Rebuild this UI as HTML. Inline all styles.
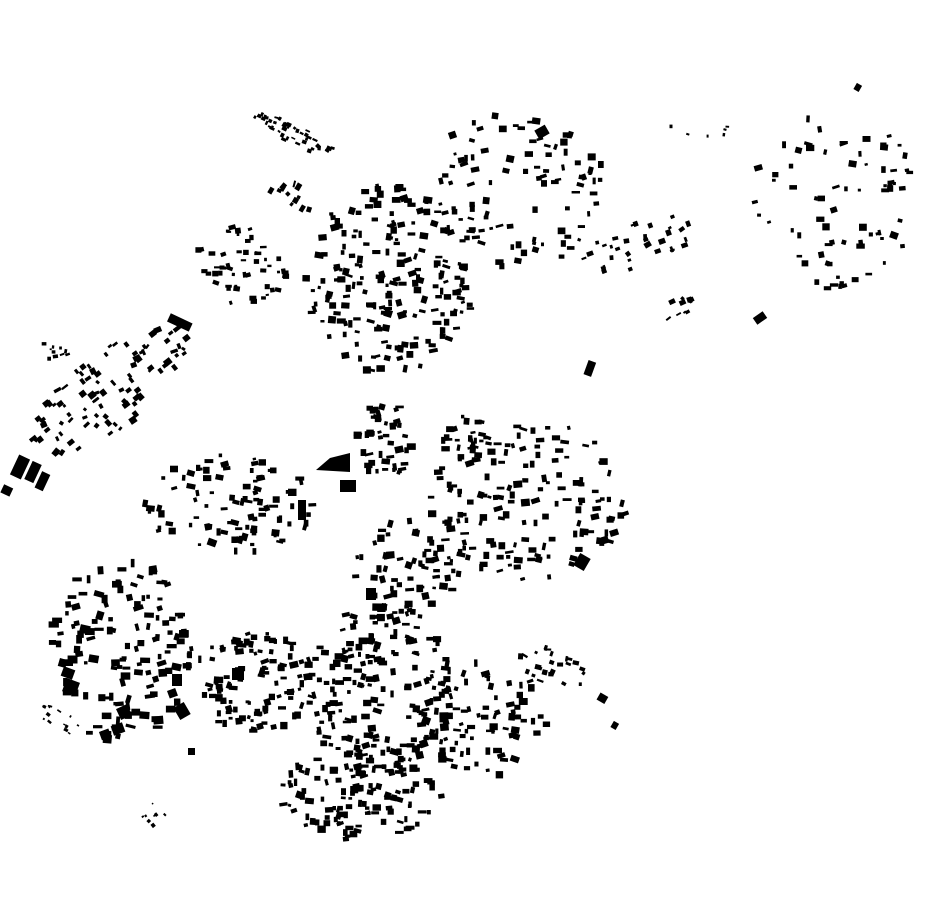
<!DOCTYPE html>
<html><head><meta charset="utf-8"><style>
html,body{margin:0;padding:0;background:#fff;}
svg{display:block}
</style></head><body>
<svg id="s" width="930" height="924" viewBox="0 0 930 924" xmlns="http://www.w3.org/2000/svg">
<rect width="930" height="924" fill="#fff"/>
<g fill="#000">
<rect x="586" y="361" width="8" height="15" transform="rotate(20 590 368)"/>
<rect x="754" y="314" width="12" height="8" transform="rotate(-35 760 318)"/>
<path d="M316 470 L330 458 L350 453 L350 472 Z"/>
<rect x="340" y="480" width="16" height="12"/>
<rect x="168" y="318" width="24" height="9" transform="rotate(25 180 322)"/>
<rect x="855" y="84" width="6" height="7" transform="rotate(30 858 87)"/>
<rect x="14" y="456" width="12" height="22" transform="rotate(25 20 467)"/>
<rect x="28" y="462" width="10" height="20" transform="rotate(25 33 472)"/>
<rect x="38" y="472" width="9" height="18" transform="rotate(25 42 481)"/>
<rect x="2" y="486" width="10" height="9" transform="rotate(25 7 490)"/>
<rect x="64" y="680" width="14" height="14" transform="rotate(20 71 687)"/>
<rect x="62" y="668" width="12" height="10" transform="rotate(20 68 673)"/>
<rect x="112" y="724" width="12" height="10" transform="rotate(-20 118 729)"/>
<rect x="100" y="730" width="10" height="9" transform="rotate(-20 105 734)"/>
<rect x="176" y="704" width="12" height="14" transform="rotate(-30 182 711)"/>
<rect x="118" y="706" width="12" height="12" transform="rotate(-25 124 712)"/>
<rect x="366" y="588" width="10" height="12"/>
<rect x="298" y="500" width="8" height="20"/>
<rect x="576" y="555" width="12" height="14" transform="rotate(30 582 562)"/>
<rect x="598" y="694" width="9" height="8" transform="rotate(30 602 698)"/>
<rect x="612" y="722" width="6" height="7" transform="rotate(30 615 725)"/>
<rect x="188" y="748" width="7" height="7"/>
<rect x="536" y="127" width="12" height="10" transform="rotate(-30 542 132)"/>
<rect x="232" y="668" width="12" height="12"/>
<rect x="172" y="674" width="10" height="12"/>
</g>
<g id="g" fill="#000"></g>
</svg>
<script>
(function(){
var seed=12345;function r(){seed=(seed*1103515245+12345)&0x7fffffff;return seed/0x7fffffff;}
var C=[
[295,135,45,10,45,25,0.6],
[240,265,48,42,55,0,0.8],
[290,195,12,25,12,-60,0.8],
[110,390,95,38,95,-38,0.9],
[55,350,15,10,10,0,0.6],
[390,280,85,95,200,0,1],
[515,190,92,78,100,0,0.95],
[640,245,62,22,32,-20,0.8],
[835,205,85,92,75,0,0.95],
[675,310,25,12,10,-30,0.7],
[385,440,28,40,45,0,1],
[230,505,85,50,95,0,1],
[530,500,100,80,150,0,1],
[410,570,55,50,65,0,1],
[120,650,72,92,135,0,1.15],
[255,680,62,52,110,0,1],
[380,690,72,90,180,0,1],
[485,720,62,58,85,0,1],
[360,795,82,45,115,0,1],
[555,668,40,18,25,20,0.8],
[60,720,25,10,14,30,0.5],
[155,815,15,15,8,45,0.5],
[465,440,25,25,25,0,1],
[700,130,40,8,6,0,0.6]
];
var h='';
C.forEach(function(c){
 var a=c[5]*Math.PI/180,ca=Math.cos(a),sa=Math.sin(a);
 for(var i=0;i<c[4];i++){
  var t=r()*2*Math.PI,d=Math.sqrt(r());
  var x=Math.cos(t)*d*c[2],y=Math.sin(t)*d*c[3];
  var X=c[0]+x*ca-y*sa,Y=c[1]+x*sa+y*ca;
  var w=(3+r()*6)*c[6],hh=(2.5+r()*5)*c[6];
  var rot=(r()<0.5?c[5]:c[5]+(r()*40-20));
  h+='<rect x="'+(X-w/2).toFixed(1)+'" y="'+(Y-hh/2).toFixed(1)+'" width="'+w.toFixed(1)+'" height="'+hh.toFixed(1)+'" transform="rotate('+rot.toFixed(0)+' '+X.toFixed(1)+' '+Y.toFixed(1)+')"/>';
 }
});
document.getElementById('g').innerHTML=h;
})();
</script>
</body></html>
